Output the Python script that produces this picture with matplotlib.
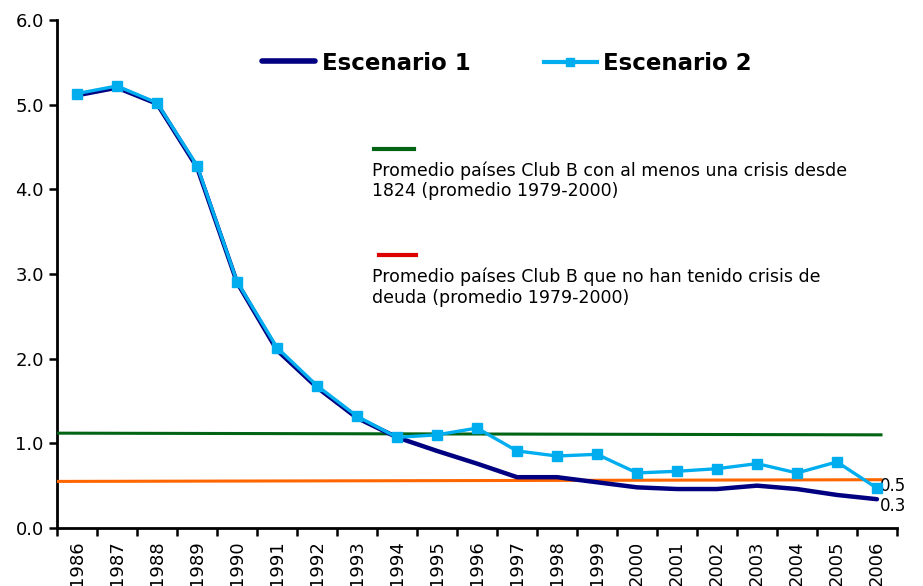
import numpy as np
import matplotlib
matplotlib.use("Agg")
import matplotlib.pyplot as plt

years = [str(y) for y in range(1986, 2007)]
escenario1 = [5.11, 5.20, 5.01, 4.26, 2.90, 2.10, 1.66, 1.30, 1.07, 0.91, 0.76,
              0.60, 0.60, 0.54, 0.48, 0.46, 0.46, 0.50, 0.46, 0.39, 0.34]
escenario2 = [5.13, 5.22, 5.02, 4.28, 2.91, 2.13, 1.68, 1.32, 1.07, 1.10, 1.18,
              0.91, 0.85, 0.87, 0.65, 0.67, 0.70, 0.76, 0.65, 0.78, 0.47]
# reference levels (start, end)
crisis_level = [1.12, 1.10]
no_crisis_level = [0.55, 0.57]
end_labels = ["0.5", "0.3"]

navy = "#000080"
light_blue = "#00AEEF"
green = "#006414"
orange = "#FF6600"
red = "#DD0000"

fig = plt.figure(figsize=(9.23, 5.86), dpi=100)
ax = fig.add_axes([0.0618, 0.099, 0.910, 0.867])

x = np.arange(len(years))
ax.plot([-0.5, 20.1], crisis_level, color=green, lw=2.2, zorder=3)
ax.plot([-0.5, 20.1], no_crisis_level, color=orange, lw=2.2, zorder=3)
ax.plot(x, escenario1, color=navy, lw=3.2, solid_capstyle="round", zorder=4)
ax.plot(x, escenario2, color=light_blue, lw=2.4, marker="s", ms=6.5,
        mec=light_blue, zorder=5)

ax.text(x[-1] + 0.08, escenario2[-1] + 0.03, end_labels[0], fontsize=12, va="center", ha="left")
ax.text(x[-1] + 0.08, escenario1[-1] - 0.08, end_labels[1], fontsize=12, va="center", ha="left")

ax.set_xlim(-0.5, 20.5)
ax.set_ylim(0, 6)
ax.set_yticks(np.arange(0, 6.1, 1.0))
ax.set_yticklabels([f"{v:.1f}" for v in np.arange(0, 6.1, 1.0)], fontsize=13)
ax.set_xticks(np.arange(-0.5, 20.6, 1.0))
ax.set_xticklabels([])
ax.set_xticks(x, minor=True)
ax.set_xticklabels(years, minor=True, rotation=90, fontsize=13)
ax.tick_params(axis="x", which="minor", length=0, pad=9)
ax.tick_params(axis="both", which="major", length=6, width=1.8, direction="out")
for s in ["top", "right"]:
    ax.spines[s].set_visible(False)
for s in ["left", "bottom"]:
    ax.spines[s].set_linewidth(2)

# legend entries
fig.add_artist(plt.Line2D([262 / 923, 315 / 923], [1 - 61 / 586] * 2, color=navy, lw=4,
                          solid_capstyle="round"))
fig.text(322 / 923, 1 - 63 / 586, "Escenario 1", fontsize=16.5, fontweight="bold", va="center")
fig.add_artist(plt.Line2D([544 / 923, 597 / 923], [1 - 62 / 586] * 2, color=light_blue, lw=3))
fig.add_artist(plt.Line2D([570 / 923], [1 - 62 / 586], color=light_blue, marker="s", ms=6))
fig.text(603 / 923, 1 - 63 / 586, "Escenario 2", fontsize=16.5, fontweight="bold", va="center")

fig.add_artist(plt.Line2D([374 / 923, 414 / 923], [1 - 149 / 586] * 2, color=green, lw=3))
fig.text(372 / 923, 1 - 161 / 586,
         "Promedio países Club B con al menos una crisis desde\n1824 (promedio 1979-2000)",
         fontsize=12.5, va="top", linespacing=1.15)
fig.add_artist(plt.Line2D([379 / 923, 416 / 923], [1 - 255 / 586] * 2, color=red, lw=3))
fig.text(372 / 923, 1 - 268 / 586,
         "Promedio países Club B que no han tenido crisis de\ndeuda (promedio 1979-2000)",
         fontsize=12.5, va="top", linespacing=1.15)

fig.savefig("out.png", dpi=100)
